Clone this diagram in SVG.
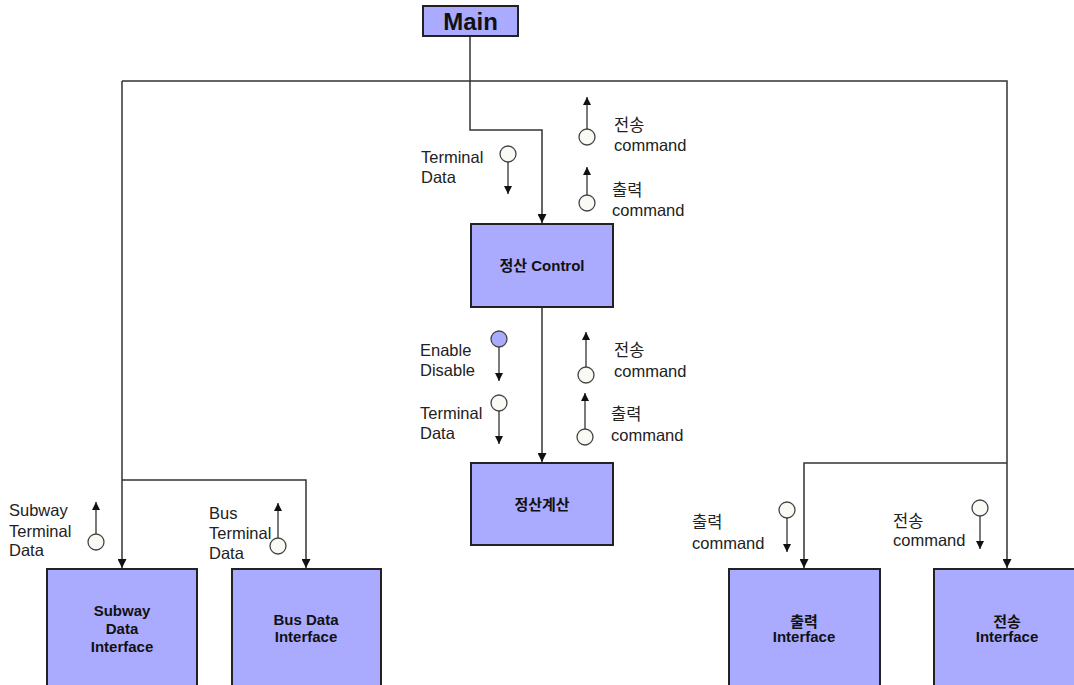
<svg xmlns="http://www.w3.org/2000/svg" width="1074" height="685" viewBox="0 0 1074 685">
<style>
.box{fill:#aaaaff;stroke:#222;stroke-width:2}
.ln{fill:none;stroke:#333;stroke-width:1.5}
.sm{fill:none;stroke:#333;stroke-width:1.3}
.cir{fill:#fafaf5;stroke:#444;stroke-width:1.3}
.cirb{fill:#aaaaff;stroke:#444;stroke-width:1.3}
.nt{font-family:"Liberation Sans","Noto Sans CJK KR",sans-serif;font-weight:bold;font-size:15px;fill:#111;text-anchor:middle}
.lb{font-family:"Liberation Sans","Noto Sans CJK KR",sans-serif;font-size:16.5px;fill:#222}
</style>
<defs>
<marker id="ah" viewBox="0 0 10 10" refX="10" refY="5" markerWidth="9" markerHeight="9" markerUnits="userSpaceOnUse" orient="auto"><path d="M0,0 L10,5 L0,10 z" fill="#111"/></marker>
<marker id="as" viewBox="0 0 10 10" refX="10" refY="5" markerWidth="8" markerHeight="8" markerUnits="userSpaceOnUse" orient="auto"><path d="M0,0 L10,5 L0,10 z" fill="#111"/></marker>
</defs>
<rect width="1074" height="685" fill="#fff"/>
<g id="connectors">
<polyline class="ln" points="470,36 470,130 542,130 542,223" marker-end="url(#ah)"/>
<polyline class="ln" points="122,81 1007,81 1007,568" marker-end="url(#ah)"/>
<line class="ln" x1="122" y1="81" x2="122" y2="568" marker-end="url(#ah)"/>
<line class="ln" x1="542" y1="307" x2="542" y2="462" marker-end="url(#ah)"/>
<polyline class="ln" points="122,480 306,480 306,568" marker-end="url(#ah)"/>
<polyline class="ln" points="1007,463 804,463 804,568" marker-end="url(#ah)"/>
</g>
<g id="flows">
<g id="f-top-jeonsong"><line class="sm" x1="587" y1="129" x2="587" y2="97" marker-end="url(#as)"/><circle class="cir" cx="587" cy="137" r="8"/><text class="lb" x="614" y="131">전송</text><text class="lb" x="614" y="151">command</text></g>
<g id="f-top-chulryeok"><line class="sm" x1="587" y1="195" x2="587" y2="167" marker-end="url(#as)"/><circle class="cir" cx="587" cy="203" r="8"/><text class="lb" x="612" y="196">출력</text><text class="lb" x="612" y="216">command</text></g>
<g id="f-top-terminal"><circle class="cir" cx="508" cy="154" r="8"/><line class="sm" x1="508" y1="162" x2="508" y2="194" marker-end="url(#as)"/><text class="lb" x="421" y="163">Terminal</text><text class="lb" x="421" y="183">Data</text></g>
<g id="f-mid-enable"><circle class="cirb" cx="499" cy="339" r="8"/><line class="sm" x1="499" y1="347" x2="499" y2="381" marker-end="url(#as)"/><text class="lb" x="420" y="356">Enable</text><text class="lb" x="420" y="376">Disable</text></g>
<g id="f-mid-terminal"><circle class="cir" cx="499" cy="403" r="8"/><line class="sm" x1="499" y1="411" x2="499" y2="444" marker-end="url(#as)"/><text class="lb" x="420" y="419">Terminal</text><text class="lb" x="420" y="439">Data</text></g>
<g id="f-mid-jeonsong"><line class="sm" x1="586" y1="367" x2="586" y2="332" marker-end="url(#as)"/><circle class="cir" cx="586" cy="375" r="8"/><text class="lb" x="614" y="356">전송</text><text class="lb" x="614" y="377">command</text></g>
<g id="f-mid-chulryeok"><line class="sm" x1="585" y1="429" x2="585" y2="393" marker-end="url(#as)"/><circle class="cir" cx="585" cy="437" r="8"/><text class="lb" x="611" y="420">출력</text><text class="lb" x="611" y="441">command</text></g>
<g id="f-subway"><line class="sm" x1="96" y1="534" x2="96" y2="502" marker-end="url(#as)"/><circle class="cir" cx="96" cy="542" r="8"/><text class="lb" x="9" y="516">Subway</text><text class="lb" x="9" y="537">Terminal</text><text class="lb" x="9" y="556">Data</text></g>
<g id="f-bus"><line class="sm" x1="278" y1="538" x2="278" y2="503" marker-end="url(#as)"/><circle class="cir" cx="278" cy="546" r="8"/><text class="lb" x="209" y="519">Bus</text><text class="lb" x="209" y="539">Terminal</text><text class="lb" x="209" y="559">Data</text></g>
<g id="f-right-chulryeok"><circle class="cir" cx="787" cy="510" r="8"/><line class="sm" x1="787" y1="518" x2="787" y2="552" marker-end="url(#as)"/><text class="lb" x="692" y="528">출력</text><text class="lb" x="692" y="549">command</text></g>
<g id="f-right-jeonsong"><circle class="cir" cx="980" cy="508" r="8"/><line class="sm" x1="980" y1="516" x2="980" y2="549" marker-end="url(#as)"/><text class="lb" x="893" y="527">전송</text><text class="lb" x="893" y="546">command</text></g>
</g>
<g id="main"><rect class="box" x="423" y="6" width="95" height="30"/><text x="470.5" y="30" style="font-family:'Liberation Sans','Noto Sans CJK KR',sans-serif;font-weight:bold;font-size:24px;fill:#111;text-anchor:middle">Main</text></g>
<g id="control"><rect class="box" x="471" y="224" width="142" height="83"/><text class="nt" x="542" y="271">정산 Control</text></g>
<g id="calc"><rect class="box" x="471" y="463" width="142" height="82"/><text class="nt" x="542" y="510">정산계산</text></g>
<g id="subway"><rect class="box" x="47" y="569" width="150" height="130"/><text class="nt" x="122" y="616">Subway</text><text class="nt" x="122" y="634">Data</text><text class="nt" x="122" y="652">Interface</text></g>
<g id="bus"><rect class="box" x="232" y="569" width="149" height="130"/><text class="nt" x="306" y="625">Bus Data</text><text class="nt" x="306" y="642">Interface</text></g>
<g id="chulryeok"><rect class="box" x="729" y="569" width="151" height="130"/><text class="nt" x="804" y="627">출력</text><text class="nt" x="804" y="642">Interface</text></g>
<g id="jeonsong"><rect class="box" x="934" y="569" width="151" height="130"/><text class="nt" x="1007" y="627">전송</text><text class="nt" x="1007" y="642">Interface</text></g>
</svg>
